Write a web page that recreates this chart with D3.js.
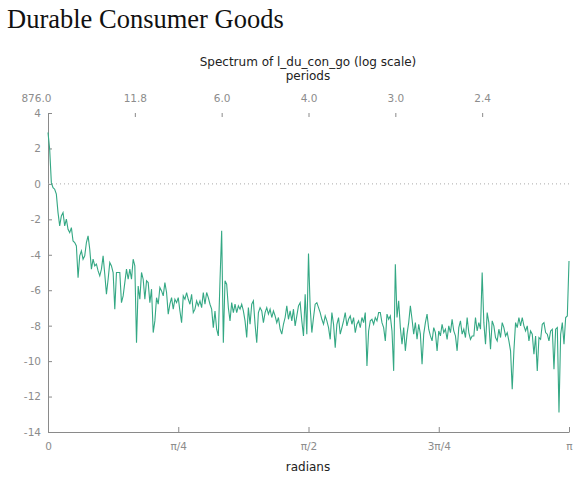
<!DOCTYPE html>
<html>
<head>
<meta charset="utf-8">
<script src="https://cdn.jsdelivr.net/npm/d3@7"></script>
<style>
  body { margin: 0; background: #fff; }
  .axis path, .axis line { stroke: #8a8a8a; }
  .axis text { fill: #8c8c8c; font-family: "DejaVu Sans", sans-serif; font-size: 10.5px; }
  .label { fill: #222; font-family: "DejaVu Sans", sans-serif; font-size: 12px; }
</style>
</head>
<body>
<script>
//// DATA
// log spectrum (uniform grid from 0 to pi)
var spectrum = [
  2.90, 1.96, 0.07, -0.21, -0.30, -0.58, -1.62, -2.37, -1.81, -1.62,
  -2.37, -1.99, -2.56, -2.75, -2.47, -3.22, -3.31, -3.50, -5.29, -4.06,
  -3.78, -4.25, -4.06, -3.31, -2.93, -3.69, -4.81, -4.25, -4.63, -4.53,
  -4.91, -5.19, -4.81, -4.06, -5.10, -6.22, -5.38, -4.44, -4.63, -5.00,
  -7.07, -5.00, -5.00, -5.00, -6.70, -6.32, -5.57, -4.81, -5.38, -4.81,
  -5.38, -4.25, -4.63, -8.96, -5.76, -6.51, -5.00, -5.38, -6.51, -5.47,
  -5.57, -6.70, -5.94, -8.39,
  -7.73, -6.42, -6.79, -5.85, -6.04, -6.32, -5.57, -6.13, -7.35, -6.79,
  -6.42, -7.07, -6.51, -6.70, -6.42, -7.17, -7.83, -6.32, -6.51, -6.13,
  -6.51, -6.79, -6.23, -7.26, -7.07, -6.60, -6.88, -6.60, -6.98, -6.13,
  -6.79, -6.13, -6.42, -6.79, -7.07, -8.11, -7.17, -8.20, -8.58, -5.47,
  -2.65, -8.96, -5.47, -5.66, -6.98, -7.73, -6.70, -7.26, -6.79, -7.26,
  -6.88, -7.07, -6.79, -7.17, -7.73, -8.67, -6.98, -7.92, -6.79, -6.60,
  -7.92, -8.96,
  -7.26, -6.98, -7.17, -7.83, -7.26, -6.98, -7.35, -7.07, -7.54, -7.17,
  -7.45, -7.83, -7.54, -8.20, -8.48, -7.92, -7.54, -6.88, -7.64, -7.17,
  -7.73, -7.07, -8.01, -7.45, -6.88, -6.70, -7.73, -8.58, -6.23, -8.48,
  -3.93, -6.98, -8.39, -7.54, -6.79, -6.70, -6.98, -7.26, -7.64, -7.92,
  -7.45, -7.73, -8.11, -8.77, -7.26, -7.92, -9.24, -7.92, -7.54, -8.48,
  -8.11, -7.73, -7.26, -8.01, -7.64, -7.45, -7.92, -7.54, -8.39, -7.92,
  -7.73, -8.11, -7.54, -7.83, -7.26, -10.27,
  -8.30, -7.73, -7.64, -7.92, -7.54, -7.73, -7.26, -7.26, -7.83, -8.11,
  -8.86, -7.35, -7.64, -7.45, -8.30, -10.55, -4.53, -7.54, -6.60, -8.11,
  -9.05, -8.11, -9.42, -8.48, -7.83, -6.88, -7.64, -8.48, -7.83, -8.77,
  -7.92, -8.48, -10.18, -8.48, -7.83, -7.35, -8.20, -8.58, -8.86, -8.11,
  -8.39, -9.42, -8.30, -8.58, -7.92, -8.39, -8.20, -8.77, -8.01, -8.39,
  -7.64, -8.30, -8.58, -9.42, -8.11, -7.73, -8.48, -8.20, -8.67, -7.54,
  -8.39, -8.77, -8.58,
  -8.58, -7.54, -8.30, -7.83, -8.20, -5.00, -7.83, -9.05, -7.26, -7.83,
  -9.33, -7.73, -8.01, -8.67, -8.86, -8.20, -8.67, -7.83, -8.11, -8.58,
  -8.39, -8.86, -9.42, -11.59, -9.42, -7.83, -8.11, -7.54, -8.01, -7.54,
  -8.01, -8.30, -8.01, -8.86, -8.30, -8.48, -9.61, -8.58, -10.55, -8.67,
  -8.77, -7.92, -7.83, -8.39, -8.48, -8.86, -8.30, -8.20, -10.46, -8.20,
  -8.11, -12.90, -8.48, -7.83, -9.05, -7.54, -7.45, -4.35
];

// bottom axis: radians
var radTicks = [0, Math.PI / 4, Math.PI / 2, 3 * Math.PI / 4, Math.PI];
var radLabels = ["0", "\u03c0/4", "\u03c0/2", "3\u03c0/4", "\u03c0"];

// top axis: periods
var periodTicks = [0, Math.PI / 6, Math.PI / 3, Math.PI / 2, 2 * Math.PI / 3, 5 * Math.PI / 6];
var periodLabels = ["876.0", "11.8", "6.0", "4.0", "3.0", "2.4"];

var yTicks = [4, 2, 0, -2, -4, -6, -8, -10, -12, -14];

//// SETUP
var W = 576, H = 481;
var svg = d3.select("body").append("svg")
    .attr("width", W)
    .attr("height", H);

var xScale = d3.scaleLinear().domain([0, Math.PI]).range([48, 569]),
    yScale = d3.scaleLinear().domain([-14, 4]).range([432, 113]);

// Title
svg.append("text")
    .attr("x", 7)
    .attr("y", 28)
    .style("font-family", "'Liberation Serif', serif")
    .style("font-size", "26.5px")
    .style("fill", "#111")
    .text("Durable Consumer Goods");

svg.append("text").attr("class", "label")
    .attr("x", 308).attr("y", 66)
    .attr("text-anchor", "middle")
    .text("Spectrum of l_du_con_go (log scale)");
svg.append("text").attr("class", "label")
    .attr("x", 308).attr("y", 80)
    .attr("text-anchor", "middle")
    .text("periods");
svg.append("text").attr("class", "label")
    .attr("x", 308).attr("y", 471)
    .attr("text-anchor", "middle")
    .text("radians");

//// AXES
svg.append("g")
    .attr("class", "axis")
    .attr("transform", "translate(48,0)")
    .call(d3.axisLeft(yScale)
        .tickValues(yTicks)
        .tickFormat(function(d) { return String(d); })
        .tickSizeInner(-4).tickSizeOuter(0)
        .tickPadding(7));

svg.append("g")
    .attr("class", "axis")
    .attr("transform", "translate(0,432)")
    .call(d3.axisBottom(xScale)
        .tickValues(radTicks)
        .tickFormat(function(d, i) { return radLabels[i]; })
        .tickSizeInner(-5).tickSizeOuter(0)
        .tickPadding(11));

var topAxis = svg.append("g")
    .attr("class", "axis")
    .attr("transform", "translate(0,113)")
    .call(d3.axisTop(xScale)
        .tickValues(periodTicks)
        .tickFormat(function(d, i) { return periodLabels[i]; })
        .tickSizeInner(-4).tickSizeOuter(0)
        .tickPadding(11));
topAxis.select(".domain").remove();
topAxis.selectAll(".tick text")
    .attr("text-anchor", function(d, i) { return i == 0 ? "end" : "middle"; })
    .attr("dx", function(d, i) { return i == 0 ? 3 : 0; });

// zero reference
svg.append("line")
    .attr("x1", xScale(0)).attr("x2", xScale(Math.PI))
    .attr("y1", yScale(0)).attr("y2", yScale(0))
    .attr("stroke", "#aaa")
    .attr("stroke-dasharray", "1,3");

//// LINE
var line = d3.line()
    .x(function(d, i) { return xScale(i * Math.PI / (spectrum.length - 1)); })
    .y(function(d) { return yScale(d); });

svg.append("path")
    .datum(spectrum)
    .attr("fill", "none")
    .attr("stroke", "#34a884")
    .attr("stroke-width", 1.1)
    .attr("d", line);
</script>
</body>
</html>
